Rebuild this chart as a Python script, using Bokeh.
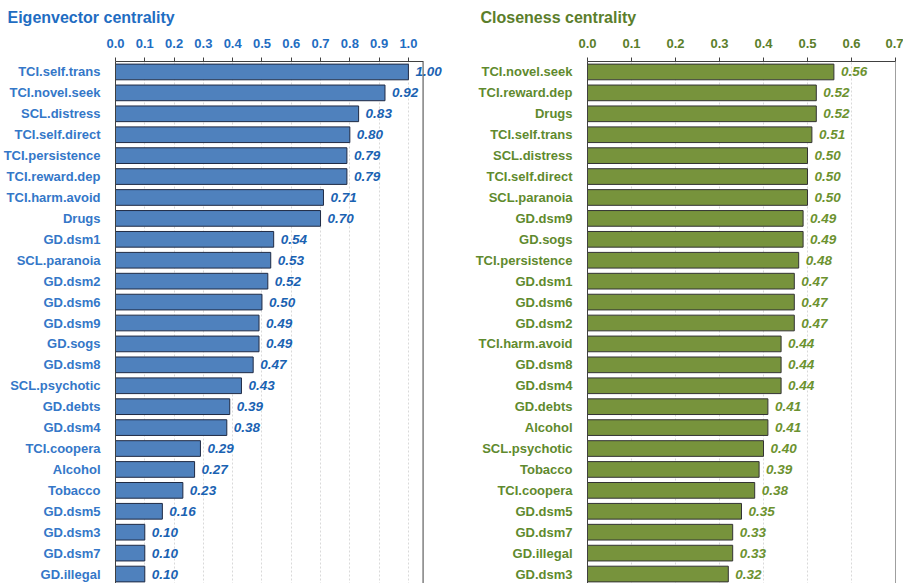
from bokeh.plotting import figure
from bokeh.layouts import row
from bokeh.models import (ColumnDataSource, FactorRange, Range1d, FixedTicker, NumeralTickFormatter,
                          Title, LabelSet, Span)
from bokeh.core.properties import value
from bokeh.embed import file_html
from bokeh.resources import INLINE

eig_names = ["TCI.self.trans", "TCI.novel.seek", "SCL.distress", "TCI.self.direct", "TCI.persistence",
             "TCI.reward.dep", "TCI.harm.avoid", "Drugs", "GD.dsm1", "SCL.paranoia", "GD.dsm2", "GD.dsm6",
             "GD.dsm9", "GD.sogs", "GD.dsm8", "SCL.psychotic", "GD.debts", "GD.dsm4", "TCI.coopera",
             "Alcohol", "Tobacco", "GD.dsm5", "GD.dsm3", "GD.dsm7", "GD.illegal"]
eig_vals = [1.00, 0.92, 0.83, 0.80, 0.79, 0.79, 0.71, 0.70, 0.54, 0.53, 0.52, 0.50, 0.49, 0.49, 0.47,
            0.43, 0.39, 0.38, 0.29, 0.27, 0.23, 0.16, 0.10, 0.10, 0.10]

clo_names = ["TCI.novel.seek", "TCI.reward.dep", "Drugs", "TCI.self.trans", "SCL.distress",
             "TCI.self.direct", "SCL.paranoia", "GD.dsm9", "GD.sogs", "TCI.persistence", "GD.dsm1",
             "GD.dsm6", "GD.dsm2", "TCI.harm.avoid", "GD.dsm8", "GD.dsm4", "GD.debts", "Alcohol",
             "SCL.psychotic", "Tobacco", "TCI.coopera", "GD.dsm5", "GD.dsm7", "GD.illegal", "GD.dsm3"]
clo_vals = [0.56, 0.52, 0.52, 0.51, 0.50, 0.50, 0.50, 0.49, 0.49, 0.48, 0.47, 0.47, 0.47, 0.44, 0.44,
            0.44, 0.41, 0.41, 0.40, 0.39, 0.38, 0.35, 0.33, 0.33, 0.32]

eig_ticks = [0.0, 0.1, 0.2, 0.3, 0.4, 0.5, 0.6, 0.7, 0.8, 0.9, 1.0]
clo_ticks = [0.0, 0.1, 0.2, 0.3, 0.4, 0.5, 0.6, 0.7]

FONT = "Liberation Sans"
EDGE = "#404040"


def panel(title, names, vals, ticks, axis_max, view_max, frame_w, fill, line, c_title, c_lab, c_val,
          border_left, border_right, title_offset):
    src = ColumnDataSource(dict(name=names, val=vals, lbl=["%.2f" % v for v in vals]))
    p = figure(frame_width=frame_w, frame_height=523, output_backend="svg", toolbar_location=None,
               x_range=Range1d(0, view_max),
               y_range=FactorRange(factors=list(reversed(names)), range_padding=0),
               x_axis_location="above", min_border_left=border_left, min_border_right=border_right,
               min_border_bottom=0, min_border_top=0)
    p.add_layout(Title(text=title, align="left", offset=title_offset, text_font=FONT,
                       text_font_size="16px", text_font_style="bold", text_color=c_title,
                       vertical_align="top", standoff=16), "above")
    p.hbar(y="name", right="val", left=0, height=0.75, source=src, fill_color=fill,
           line_color=line, line_width=1)
    p.add_layout(LabelSet(x="val", y="name", text="lbl", source=src, x_offset=7,
                          text_baseline="middle", text_align="left", text_font=value(FONT),
                          text_font_size="13.5px", text_font_style="bold italic",
                          text_color=c_val))
    xa = p.xaxis[0]
    xa.ticker = FixedTicker(ticks=ticks)
    xa.formatter = NumeralTickFormatter(format="0.0")
    xa.bounds = (0, axis_max)
    xa.major_label_text_font = FONT
    xa.major_label_text_font_size = "13px"
    xa.major_label_text_font_style = "bold"
    xa.major_label_text_color = c_title
    xa.major_label_standoff = 10
    xa.major_tick_out = 4
    xa.major_tick_in = 0
    xa.minor_tick_line_color = None
    xa.axis_line_color = EDGE
    xa.major_tick_line_color = EDGE
    ya = p.yaxis[0]
    ya.major_label_text_font = FONT
    ya.major_label_text_font_size = "13px"
    ya.major_label_text_font_style = "bold"
    ya.major_label_text_color = c_lab
    ya.major_label_standoff = 15
    ya.major_tick_out = 0
    ya.major_tick_in = 0
    ya.major_tick_line_color = None
    ya.minor_tick_line_color = None
    ya.axis_line_color = EDGE
    p.ygrid.grid_line_color = None
    p.xgrid.grid_line_color = "#d9d9d9"
    p.xgrid.grid_line_dash = "2 2"
    p.outline_line_color = None
    p.add_layout(Span(location=axis_max, dimension="height", line_color=EDGE, line_width=1))
    return p


left = panel("Eigenvector centrality", eig_names, eig_vals, eig_ticks, 1.05, 1.13, 331,
             "#4F81BD", "#1F2A44", "#1F6DC2", "#3477C8", "#1A62B2", 108, 1, -108)
right = panel("Closeness centrality", clo_names, clo_vals, clo_ticks, 0.7, 0.7, 308,
              "#77933C", "#333333", "#5B7E2B", "#5F8A2E", "#6C922F", 140, 8, -107)

layout = row(left, right)
open("out.html", "w").write(file_html(layout, INLINE))
